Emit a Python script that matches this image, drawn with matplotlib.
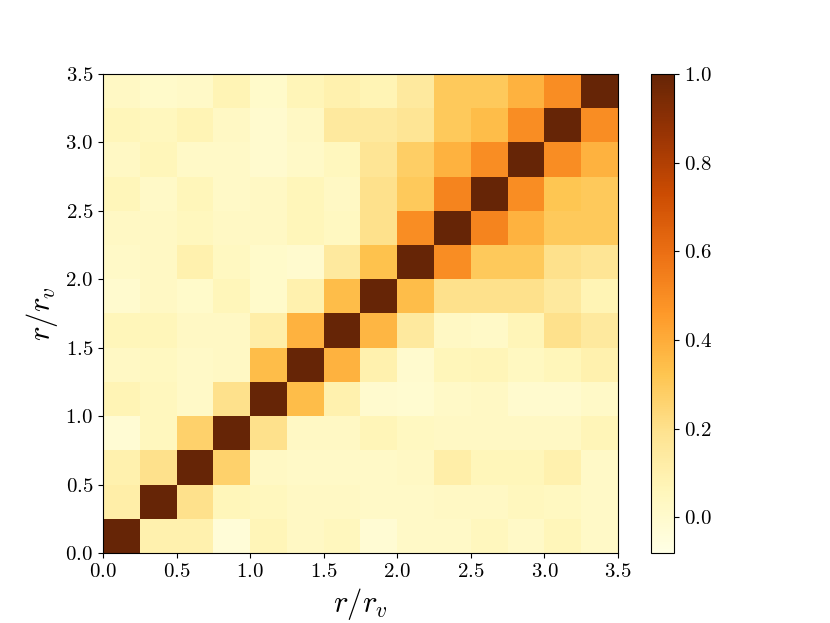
import numpy as np
import matplotlib
matplotlib.use("Agg")
import matplotlib.pyplot as plt

plt.rcParams['font.family'] = 'serif'
plt.rcParams['font.serif'] = ['cmr10']
plt.rcParams['mathtext.fontset'] = 'cm'
plt.rcParams['axes.formatter.use_mathtext'] = True

# radial bins r/r_v
r_edges = np.linspace(0.0, 3.5, 15)

# correlation matrix, rows from r=0 (bottom) upward
corr_rows = [
    [1.00, 0.10, 0.10, -0.03, 0.07, 0.03, 0.05, -0.02, 0.02, 0.02, 0.05, 0.02, 0.06, 0.02],
    [0.12, 1.00, 0.20, 0.06, 0.05, 0.03, 0.03, 0.02, 0.02, 0.03, 0.03, 0.05, 0.04, 0.02],
    [0.10, 0.20, 1.00, 0.27, 0.03, 0.02, 0.02, 0.02, 0.03, 0.12, 0.06, 0.06, 0.10, 0.02],
    [-0.02, 0.05, 0.27, 1.00, 0.20, 0.03, 0.03, 0.07, 0.04, 0.03, 0.03, 0.03, 0.03, 0.07],
    [0.08, 0.05, 0.02, 0.20, 1.00, 0.35, 0.10, 0.00, -0.01, 0.02, 0.03, 0.00, 0.00, 0.02],
    [0.03, 0.04, 0.02, 0.03, 0.35, 1.00, 0.38, 0.10, 0.00, 0.06, 0.07, 0.04, 0.06, 0.10],
    [0.06, 0.06, 0.03, 0.03, 0.12, 0.38, 1.00, 0.37, 0.15, 0.03, 0.02, 0.07, 0.20, 0.15],
    [0.00, 0.03, 0.01, 0.06, 0.01, 0.10, 0.35, 1.00, 0.35, 0.20, 0.20, 0.20, 0.15, 0.08],
    [0.02, 0.03, 0.10, 0.04, 0.01, 0.00, 0.15, 0.33, 1.00, 0.50, 0.30, 0.30, 0.20, 0.18],
    [0.03, 0.03, 0.05, 0.03, 0.03, 0.06, 0.04, 0.20, 0.50, 1.00, 0.53, 0.38, 0.30, 0.30],
    [0.06, 0.02, 0.06, 0.02, 0.03, 0.06, 0.03, 0.20, 0.30, 0.53, 1.00, 0.50, 0.32, 0.30],
    [0.03, 0.06, 0.02, 0.02, 0.00, 0.02, 0.05, 0.18, 0.28, 0.38, 0.50, 1.00, 0.50, 0.38],
    [0.06, 0.05, 0.08, 0.03, 0.00, 0.03, 0.15, 0.15, 0.18, 0.30, 0.35, 0.50, 1.00, 0.50],
    [0.03, 0.01, 0.02, 0.08, 0.01, 0.07, 0.10, 0.08, 0.15, 0.30, 0.30, 0.38, 0.50, 1.00],
]
corr = np.array(corr_rows)

fig = plt.figure(figsize=(8.3, 6.23), dpi=100)
ax = fig.add_axes([0.124, 0.1124, 0.6206, 0.7689])
cax = fig.add_axes([0.7843, 0.1124, 0.0277, 0.7689])

mesh = ax.pcolormesh(r_edges, r_edges, corr, cmap='YlOrBr', vmin=-0.08, vmax=1.0)
ax.set_xlim(0, 3.5)
ax.set_ylim(0, 3.5)
ticks = np.arange(0, 3.51, 0.5)
ax.set_xticks(ticks)
ax.set_yticks(ticks)
ax.set_xticklabels([f'${t:.1f}$' for t in ticks])
ax.set_yticklabels([f'${t:.1f}$' for t in ticks])
ax.tick_params(labelsize=15)
ax.set_xlabel(r'$r/r_v$', fontsize=22)
ax.set_ylabel(r'$r/r_v$', fontsize=22)

cb = fig.colorbar(mesh, cax=cax)
cticks = np.arange(0, 1.01, 0.2)
cb.set_ticks(cticks)
cb.set_ticklabels([f'${t:.1f}$' for t in cticks])
cb.ax.tick_params(labelsize=15)

fig.savefig('out.png', dpi=100)
